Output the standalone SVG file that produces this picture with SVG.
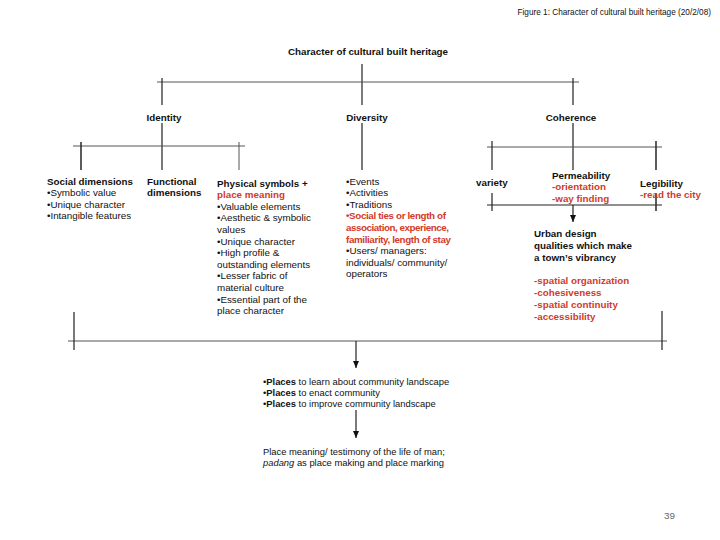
<svg xmlns="http://www.w3.org/2000/svg" width="720" height="540" viewBox="0 0 720 540">
<defs>
<style>
text{font-family:"Liberation Sans",Arial,Helvetica,sans-serif;font-size:9.8px;fill:#111}
.b{font-weight:bold}
.r{fill:#d23a2a;font-weight:bold}
.s{font-size:9.4px}
.ln{stroke:#555;stroke-width:1;fill:none}
.vk{stroke:#222;stroke-width:1.2;fill:none}
.th{stroke:#333;stroke-width:1.6;fill:none}
</style>
<marker id="down" viewBox="0 0 6 7" refX="3" refY="7" markerWidth="6" markerHeight="7" markerUnits="userSpaceOnUse" orient="0">
<path d="M0,0 L6,0 L3,7 Z" fill="#111"/>
</marker>
</defs>
<rect width="720" height="540" fill="#fff"/>

<g id="caption"><text transform="translate(711 15) scale(0.84 1)" text-anchor="end" font-size="8">Figure 1: Character of cultural built heritage (20/2/08)</text></g>

<g id="connectors">
<path class="vk" d="M362 64V105"/>
<path class="ln" d="M157 82H579"/>
<path class="vk" d="M162 78V105M573 78V105"/>
<path class="vk" d="M162 123V170M362 123V170M573 123V170"/>
<path class="ln" d="M73 146H245"/>
<path class="th" d="M81 142V170"/>
<path class="ln" d="M239 142V170"/>
<path class="ln" d="M487 147H662"/>
<path class="vk" d="M492 141V170"/>
<path class="th" d="M656 141V170"/>
<path class="vk" d="M487 205H662"/>
<path class="vk" d="M492 193V211"/>
<path class="th" d="M656 193V211"/>
<path class="vk" d="M573 205V222" marker-end="url(#down)"/>
<path class="ln" d="M68 341H667"/>
<path class="vk" d="M74 312V350M662 311V350"/>
<path class="vk" d="M356 341V368" marker-end="url(#down)"/>
<path class="vk" d="M356 410V438" marker-end="url(#down)"/>
</g>

<g id="root"><text class="b" x="368" y="55" text-anchor="middle">Character of cultural built heritage</text></g>
<g id="identity"><text class="b" x="164" y="121" text-anchor="middle">Identity</text></g>
<g id="diversity"><text class="b" x="367" y="121" text-anchor="middle">Diversity</text></g>
<g id="coherence"><text class="b" x="571" y="121" text-anchor="middle">Coherence</text></g>

<g id="social">
<text class="b" x="47" y="184.5">Social dimensions</text>
<text x="47" y="196">•Symbolic value</text>
<text x="47" y="207.5">•Unique character</text>
<text x="47" y="219">•Intangible features</text>
</g>
<g id="functional">
<text class="b" x="147" y="184.5">Functional</text>
<text class="b" x="147" y="196">dimensions</text>
</g>
<g id="physical">
<text class="b" x="217" y="186.5">Physical symbols +</text>
<text class="r" x="217" y="198.1">place meaning</text>
<text x="217" y="209.7">•Valuable elements</text>
<text x="217" y="221.3">•Aesthetic &amp; symbolic</text>
<text x="217" y="232.9">values</text>
<text x="217" y="244.5">•Unique character</text>
<text x="217" y="256.1">•High profile &amp;</text>
<text x="217" y="267.7">outstanding elements</text>
<text x="217" y="279.3">•Lesser fabric of</text>
<text x="217" y="290.9">material culture</text>
<text x="217" y="302.5">•Essential part of the</text>
<text x="217" y="314.1">place character</text>
</g>
<g id="events">
<text x="346" y="184.5">•Events</text>
<text x="346" y="196.1">•Activities</text>
<text x="346" y="207.7">•Traditions</text>
<text class="r" x="346" y="219.3" textLength="100">•Social ties or length of</text>
<text class="r" x="346" y="230.9" textLength="103">association, experience,</text>
<text class="r" x="346" y="242.5" textLength="105">familiarity, length of stay</text>
<text x="346" y="254.1">•Users/ managers:</text>
<text x="346" y="265.7">individuals/ community/</text>
<text x="346" y="277.3">operators</text>
</g>
<g id="variety"><text class="b" x="476" y="186">variety</text></g>
<g id="permeability">
<text class="b" x="552" y="178.5">Permeability</text>
<text class="r" x="552" y="190">-orientation</text>
<text class="r" x="552" y="201.5">-way finding</text>
</g>
<g id="legibility">
<text class="b" x="640" y="186.5">Legibility</text>
<text class="r" x="640" y="198">-read the city</text>
</g>
<g id="urban">
<text class="b" x="534" y="236.5">Urban design</text>
<text class="b" x="534" y="248.5">qualities which make</text>
<text class="b" x="534" y="260.5">a town’s vibrancy</text>
<text class="r" x="534" y="283.5">-spatial organization</text>
<text class="r" x="534" y="295.5">-cohesiveness</text>
<text class="r" x="534" y="307.5">-spatial continuity</text>
<text class="r" x="534" y="319.5">-accessibility</text>
</g>
<g id="places">
<text class="s" x="263" y="384.5">•<tspan class="b">Places</tspan> to learn about community landscape</text>
<text class="s" x="263" y="395.5">•<tspan class="b">Places</tspan> to enact community</text>
<text class="s" x="263" y="406.5">•<tspan class="b">Places</tspan> to improve community landscape</text>
</g>
<g id="meaning">
<text class="s" x="263" y="454.5">Place meaning/ testimony of the life of man;</text>
<text class="s" x="263" y="465.5"><tspan font-style="italic">padang</tspan> as place making and place marking</text>
</g>
<g id="page"><text x="664" y="519" font-size="11" style="fill:#666">39</text></g>
</svg>
